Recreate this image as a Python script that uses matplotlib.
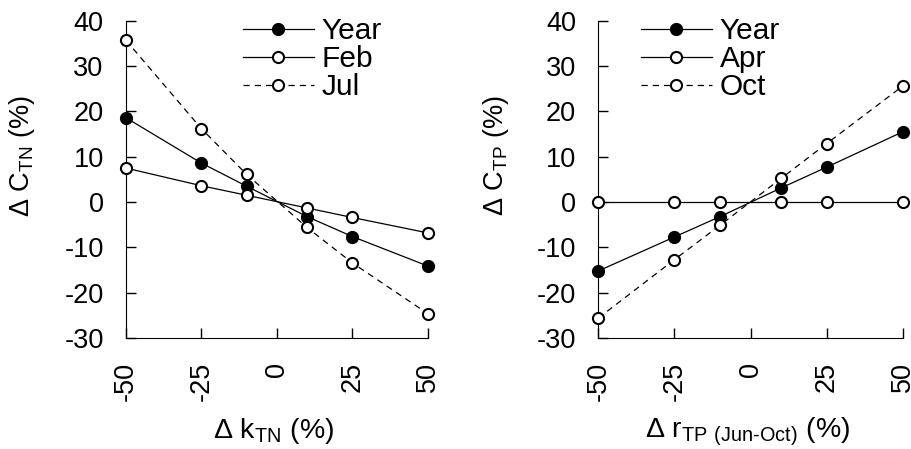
import matplotlib
matplotlib.use('Agg')
import matplotlib.pyplot as plt

plt.rcParams['font.family'] = ['Liberation Sans', 'DejaVu Sans']
plt.rcParams['mathtext.fontset'] = 'custom'
plt.rcParams['mathtext.rm'] = 'Liberation Sans'
plt.rcParams['axes.unicode_minus'] = False

x = [-50, -25, -10, 10, 25, 50]
xticks = [-50, -25, 0, 25, 50]
yticks = [-30, -20, -10, 0, 10, 20, 30, 40]

# left panel: change in k_TN
tn_year = [18.6, 8.6, 3.5, -3.2, -7.6, -14.1]
tn_feb = [7.5, 3.6, 1.5, -1.3, -3.4, -6.8]
tn_jul = [35.7, 16.2, 6.1, -5.6, -13.4, -24.6]

# right panel: change in r_TP (Jun-Oct)
tp_year = [-15.2, -7.7, -3.2, 3.1, 7.7, 15.5]
tp_apr = [0, 0, 0, 0, 0, 0]
tp_oct = [-25.6, -12.7, -5.1, 5.2, 12.9, 25.6]

fs = 19.5
fig = plt.figure(figsize=(9.12, 4.49), dpi=100)
ax1 = fig.add_axes([0.138, 0.247, 0.331, 0.707])
ax2 = fig.add_axes([0.656, 0.247, 0.334, 0.707])

mk = dict(marker='o', markersize=8, markeredgewidth=1.5, markeredgecolor='black',
          color='black', linewidth=0.9, clip_on=False, zorder=3)
leg = dict(loc='upper left', frameon=False, fontsize=21.5, handlelength=2.4,
           handletextpad=0.25, labelspacing=0.0, borderpad=0)


def style(ax):
    ax.set_xlim(-50, 50)
    ax.set_ylim(-30, 40)
    ax.set_xticks(xticks)
    ax.set_xticklabels([str(v) for v in xticks], rotation=90)
    ax.set_yticks(yticks)
    ax.spines['top'].set_visible(False)
    ax.spines['right'].set_visible(False)
    ax.tick_params(direction='in', length=7, width=1, labelsize=fs)
    ax.tick_params(axis='y', pad=16)
    ax.tick_params(axis='x', pad=17)


ax1.plot(x, tn_year, markerfacecolor='black', label='Year', **mk)
ax1.plot(x, tn_feb, markerfacecolor='white', label='Feb', **mk)
ax1.plot(x, tn_jul, markerfacecolor='white', linestyle=(0, (5, 4)), label='Jul', **mk)
style(ax1)
ax1.set_ylabel('Δ C$_\\mathregular{TN}$ (%)', fontsize=fs)
ax1.set_xlabel('Δ k$_\\mathregular{TN}$ (%)', fontsize=20.5)
ax1.yaxis.set_label_coords(-0.295, 0.574)
ax1.xaxis.set_label_coords(0.49, -0.245)
ax1.legend(bbox_to_anchor=(0.337, 1.058), **leg)

ax2.plot(x, tp_year, markerfacecolor='black', label='Year', **mk)
ax2.plot(x, tp_apr, markerfacecolor='white', label='Apr', **mk)
ax2.plot(x, tp_oct, markerfacecolor='white', linestyle=(0, (5, 4)), label='Oct', **mk)
style(ax2)
ax2.set_ylabel('Δ C$_\\mathregular{TP}$ (%)', fontsize=fs)
ax2.set_xlabel('Δ r$_\\mathregular{TP\\ (Jun‐Oct)}$ (%)', fontsize=20.5)
ax2.yaxis.set_label_coords(-0.288, 0.574)
ax2.xaxis.set_label_coords(0.49, -0.245)
ax2.legend(bbox_to_anchor=(0.09, 1.058), **leg)

fig.savefig('out.png', dpi=100)
